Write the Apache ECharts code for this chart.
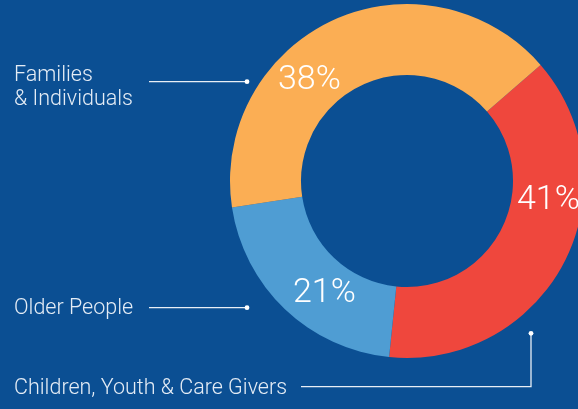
<!DOCTYPE html>
<html><head><meta charset="utf-8">
<script src="https://cdn.jsdelivr.net/npm/echarts@6/dist/echarts.min.js"></script>
<style>html,body{margin:0;padding:0;background:#0b4f93;} #c{width:578px;height:409px;}</style>
</head><body><div id="c"></div>
<script>
// Data (order: clockwise starting from the orange/red boundary)
const categories = ['Children, Youth & Care Givers', 'Older People', 'Families\n& Individuals'];
const sliceValues = [38, 21, 41];
const percentLabels = ['41%', '21%', '38%'];
const sliceColors = ['#ef473d', '#4f9dd3', '#fbae54'];

// Label layout (styling / placement only)
const pctPos = [[517, 200], [293, 293], [278, 80]];
const namePos = [[14, 388.5], [14, 308.5], [14, 87.5]];
const leaderPts = [
  [[301, 386.7], [531, 386.7], [531, 333.3]],
  [[149, 307.7], [247, 307.7]],
  [[149, 81.7], [247, 81.7]]
];

const chart = echarts.init(document.getElementById('c'), null, {renderer: 'canvas'});
const ringData = categories.map((c, i) => ({name: c, value: sliceValues[i], itemStyle: {color: sliceColors[i]}}));

chart.setOption({
  backgroundColor: '#0b4f93',
  animation: false,
  series: [
    {
      type: 'pie',
      center: [407, 181],
      radius: [106, 177],
      startAngle: 41,
      clockwise: true,
      silent: true,
      avoidLabelOverlap: false,
      itemStyle: {borderWidth: 0},
      emphasis: {disabled: true},
      data: ringData,
      label: {
        show: true,
        position: 'inside',
        formatter: p => percentLabels[p.dataIndex],
        color: '#ffffff',
        fontSize: 34,
        fontWeight: 300,
        fontFamily: 'Roboto'
      },
      labelLine: {show: false},
      labelLayout: p => ({x: pctPos[p.dataIndex][0], y: pctPos[p.dataIndex][1], align: 'left', verticalAlign: 'middle'})
    },
    {
      type: 'pie',
      center: [407, 181],
      radius: [106, 177],
      startAngle: 41,
      clockwise: true,
      silent: true,
      z: 1,
      avoidLabelOverlap: false,
      emphasis: {disabled: true},
      itemStyle: {color: 'transparent', borderWidth: 0},
      data: categories.map((c, i) => ({name: c, value: sliceValues[i]})),
      label: {
        show: true,
        position: 'outside',
        formatter: '{b}',
        color: '#e4ecf5',
        fontSize: 21.5,
        lineHeight: 24.4,
        fontWeight: 300,
        fontFamily: 'Roboto',
        overflow: 'none'
      },
      labelLine: {show: true, length: 10, length2: 10, lineStyle: {color: '#e8eef6', width: 1.3}},
      labelLayout: p => ({
        x: namePos[p.dataIndex][0], y: namePos[p.dataIndex][1],
        align: 'left', verticalAlign: 'middle', width: 320,
        labelLinePoints: leaderPts[p.dataIndex]
      })
    }
  ],
  graphic: leaderPts.map(pts => ({
    type: 'circle',
    shape: {cx: pts[pts.length - 1][0], cy: pts[pts.length - 1][1], r: 2.4},
    style: {fill: '#ffffff'},
    z: 10,
    silent: true
  }))
});
</script>
</body></html>
